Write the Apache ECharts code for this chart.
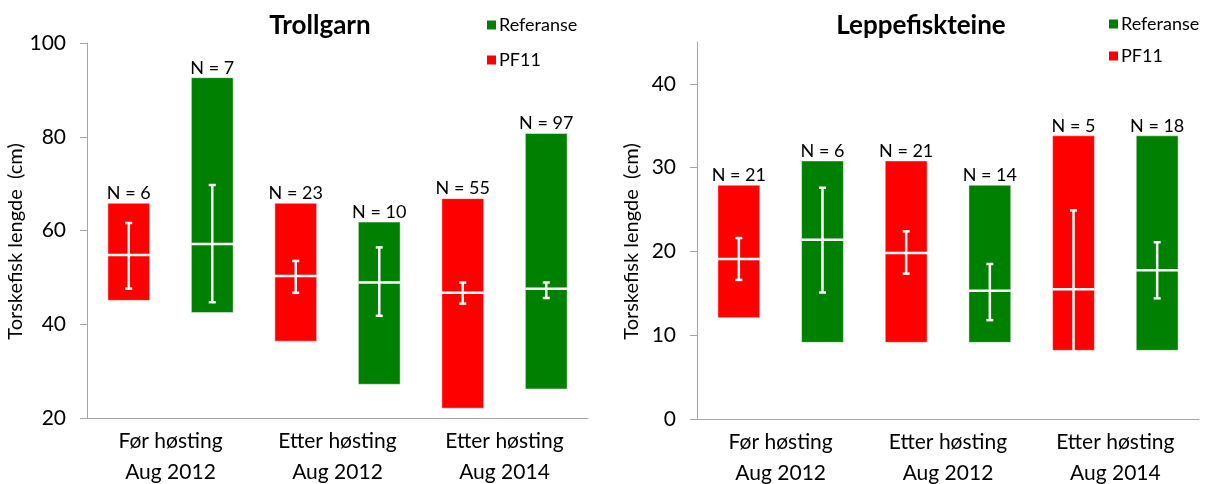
<!DOCTYPE html>
<html>
<head>
<meta charset="utf-8">
<script src="https://cdn.jsdelivr.net/npm/echarts@6/dist/echarts.min.js"></script>
<style>
html,body{margin:0;padding:0;background:#fff;}
#main{width:1205px;height:484px;}
</style>
</head>
<body>
<div id="main"></div>
<script>
// ---- Data ----
const categories = ['Før høsting\nAug 2012', 'Etter høsting\nAug 2012', 'Etter høsting\nAug 2014'];

// Trollgarn
const trollPF11Min = [45.1, 36.4, 22.1];
const trollPF11Max = [65.8, 65.8, 66.8];
const trollPF11Mean = [54.8, 50.3, 46.7];
const trollPF11Low = [47.6, 46.7, 44.4];
const trollPF11High = [61.6, 53.5, 48.9];
const trollPF11N = [6, 23, 55];

const trollRefMin = [42.5, 27.2, 26.2];
const trollRefMax = [92.6, 61.8, 80.7];
const trollRefMean = [57.1, 48.9, 47.6];
const trollRefLow = [44.7, 41.8, 45.6];
const trollRefHigh = [69.7, 56.4, 48.9];
const trollRefN = [7, 10, 97];

// Leppefiskteine
const leppePF11Min = [12.1, 9.15, 8.2];
const leppePF11Max = [27.9, 30.8, 33.8];
const leppePF11Mean = [19.1, 19.8, 15.5];
const leppePF11Low = [16.6, 17.35, 8.2];
const leppePF11High = [21.6, 22.4, 24.9];
const leppePF11N = [21, 21, 5];

const leppeRefMin = [9.15, 9.15, 8.2];
const leppeRefMax = [30.8, 27.9, 33.8];
const leppeRefMean = [21.4, 15.3, 17.75];
const leppeRefLow = [15.1, 11.8, 14.4];
const leppeRefHigh = [27.6, 18.5, 21.1];
const leppeRefN = [6, 14, 18];

const trollTicks = [20, 40, 60, 80, 100];
const leppeTicks = [0, 10, 20, 30, 40];

// ---- Chart ----
const FONT = 'Lato, "Noto Sans", sans-serif';
const RED = '#FF0000';
const GREEN = '#008000';
const AXIS = '#A6A6A6';

function buildData(mn, mx, mean, lo, hi, n) {
  return categories.map((c, i) => [i, mn[i], mx[i], mean[i], lo[i], hi[i], n[i]]);
}

function makeRender(side) {
  return function (params, api) {
    const i = api.value(0);
    const band = api.size([1, 0])[0];
    const w = band * 0.25;
    const cx = api.coord([i, api.value(1)])[0] + side * band * 0.25;
    const yBot = api.coord([i, api.value(1)])[1];
    const yTop = api.coord([i, api.value(2)])[1];
    const yMean = api.coord([i, api.value(3)])[1];
    const yLo = api.coord([i, api.value(4)])[1];
    const yHi = api.coord([i, api.value(5)])[1];
    const color = api.visual('color');
    const cap = 3.5;
    const lw = 2.5;
    const children = [
      { type: 'rect', shape: { x: cx - w / 2, y: yTop, width: w, height: yBot - yTop },
        style: { fill: color, stroke: 'rgba(255,255,255,0.45)', lineWidth: 1 } },
      { type: 'line', shape: { x1: cx - w / 2, y1: yMean, x2: cx + w / 2, y2: yMean },
        style: { stroke: '#fff', lineWidth: lw } },
      { type: 'line', shape: { x1: cx, y1: yHi, x2: cx, y2: yLo },
        style: { stroke: '#fff', lineWidth: lw } },
      { type: 'line', shape: { x1: cx - cap, y1: yHi, x2: cx + cap, y2: yHi },
        style: { stroke: '#fff', lineWidth: lw } }
    ];
    if (api.value(4) > api.value(1)) {
      children.push({ type: 'line', shape: { x1: cx - cap, y1: yLo, x2: cx + cap, y2: yLo },
        style: { stroke: '#fff', lineWidth: lw } });
    }
    children.push({ type: 'text', x: cx, y: yTop - 1,
      style: { text: 'N = ' + api.value(6), textAlign: 'center', textVerticalAlign: 'bottom',
        font: '18px ' + FONT, fill: '#000' } });
    return { type: 'group', children: children };
  };
}

function xAxisDef(gridIndex) {
  return {
    type: 'category', gridIndex: gridIndex, data: categories,
    axisLine: { lineStyle: { color: AXIS, width: 1 } },
    axisTick: { length: 6, lineStyle: { color: AXIS } },
    axisLabel: { color: '#000', fontSize: 21, fontFamily: FONT, lineHeight: 31, margin: 8 }
  };
}

function yAxisDef(gridIndex, min, max, interval, ticks, nameGap) {
  return {
    type: 'value', gridIndex: gridIndex, min: min, max: max, interval: interval,
    name: 'Torskefisk lengde  (cm)', nameLocation: 'middle', nameGap: nameGap,
    nameTextStyle: { color: '#000', fontSize: 20, fontFamily: FONT, padding: [0, 22, 0, 0] },
    axisLine: { show: true, lineStyle: { color: AXIS, width: 1 } },
    axisTick: { show: true, length: 7, lineStyle: { color: AXIS }, customValues: ticks },
    axisLabel: { color: '#000', fontSize: 21, fontFamily: FONT, margin: 21, customValues: ticks },
    splitLine: { show: false }
  };
}

const chart = echarts.init(document.getElementById('main'), null, { renderer: 'canvas' });
chart.setOption({
  animation: false,
  backgroundColor: '#fff',
  title: [
    { text: 'Trollgarn', left: 320, top: 13, textAlign: 'center', padding: 0,
      textStyle: { fontSize: 26, fontWeight: 'bold', fontFamily: FONT, color: '#000' } },
    { text: 'Leppefiskteine', left: 921, top: 13, textAlign: 'center', padding: 0,
      textStyle: { fontSize: 26, fontWeight: 'bold', fontFamily: FONT, color: '#000' } }
  ],
  legend: [
    { data: ['Referanse', 'PF11'], orient: 'vertical', left: 487, top: 16, padding: 0,
      itemWidth: 9, itemHeight: 9, itemGap: 17, icon: 'rect',
      textStyle: { fontSize: 18, fontFamily: FONT, color: '#000', padding: [0, 0, 0, -2] } },
    { data: ['Referanse', 'PF11'], orient: 'vertical', left: 1109, top: 15, padding: 0,
      itemWidth: 9, itemHeight: 9, itemGap: 14, icon: 'rect',
      textStyle: { fontSize: 18, fontFamily: FONT, color: '#000', padding: [0, 0, 0, -2] } }
  ],
  grid: [
    { left: 87, top: 43, width: 501, bottom: 66, containLabel: false, outerBoundsMode: 'none' },
    { left: 697, top: 42, width: 502, bottom: 65, containLabel: false, outerBoundsMode: 'none' }
  ],
  xAxis: [xAxisDef(0), xAxisDef(1)],
  yAxis: [yAxisDef(0, 20, 100, 20, trollTicks, 55), yAxisDef(1, 0, 45, 10, leppeTicks, 55)],
  series: [
    { name: 'PF11', type: 'custom', xAxisIndex: 0, yAxisIndex: 0, itemStyle: { color: RED },
      renderItem: makeRender(-1), clip: false,
      data: buildData(trollPF11Min, trollPF11Max, trollPF11Mean, trollPF11Low, trollPF11High, trollPF11N) },
    { name: 'Referanse', type: 'custom', xAxisIndex: 0, yAxisIndex: 0, itemStyle: { color: GREEN },
      renderItem: makeRender(1), clip: false,
      data: buildData(trollRefMin, trollRefMax, trollRefMean, trollRefLow, trollRefHigh, trollRefN) },
    { name: 'PF11', type: 'custom', xAxisIndex: 1, yAxisIndex: 1, itemStyle: { color: RED },
      renderItem: makeRender(-1), clip: false,
      data: buildData(leppePF11Min, leppePF11Max, leppePF11Mean, leppePF11Low, leppePF11High, leppePF11N) },
    { name: 'Referanse', type: 'custom', xAxisIndex: 1, yAxisIndex: 1, itemStyle: { color: GREEN },
      renderItem: makeRender(1), clip: false,
      data: buildData(leppeRefMin, leppeRefMax, leppeRefMean, leppeRefLow, leppeRefHigh, leppeRefN) }
  ]
});
</script>
</body>
</html>
